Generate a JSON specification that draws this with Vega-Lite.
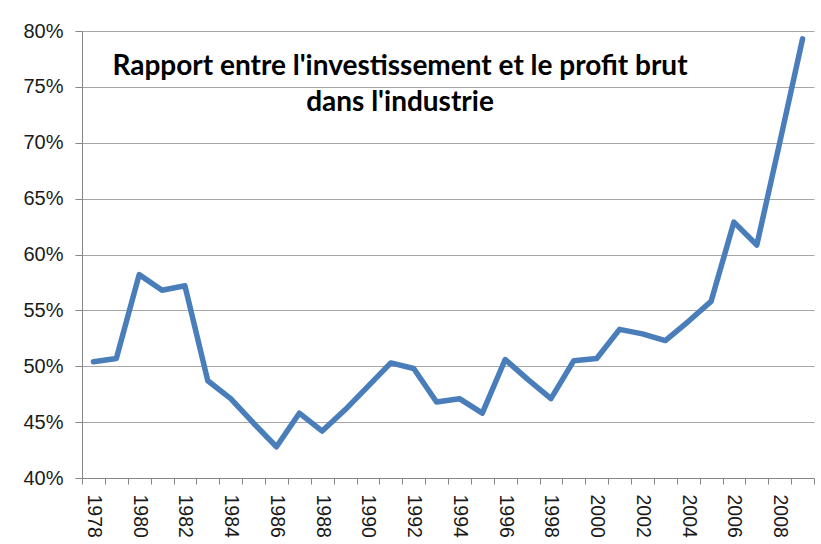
{
  "$schema": "https://vega.github.io/schema/vega-lite/v6.json",
  "autosize": "none",
  "width": 732,
  "height": 447,
  "padding": {"left": 82, "top": 31, "right": 7, "bottom": 66},
  "background": "white",
  "title": {
    "text": ["Rapport entre l'investissement et le profit brut", "dans l'industrie"],
    "orient": "top",
    "anchor": "middle",
    "frame": "group",
    "dx": -48,
    "offset": -118,
    "baseline": "alphabetic",
    "font": "Lato",
    "fontSize": 28,
    "fontWeight": "bold",
    "color": "#000000",
    "lineHeight": 36
  },
  "data": {
    "values": [
      {"year": "1978", "ratio": 0.504},
      {"year": "1979", "ratio": 0.507},
      {"year": "1980", "ratio": 0.582},
      {"year": "1981", "ratio": 0.568},
      {"year": "1982", "ratio": 0.572},
      {"year": "1983", "ratio": 0.487},
      {"year": "1984", "ratio": 0.471},
      {"year": "1985", "ratio": 0.449},
      {"year": "1986", "ratio": 0.428},
      {"year": "1987", "ratio": 0.458},
      {"year": "1988", "ratio": 0.442},
      {"year": "1989", "ratio": 0.461},
      {"year": "1990", "ratio": 0.482},
      {"year": "1991", "ratio": 0.503},
      {"year": "1992", "ratio": 0.498},
      {"year": "1993", "ratio": 0.468},
      {"year": "1994", "ratio": 0.471},
      {"year": "1995", "ratio": 0.458},
      {"year": "1996", "ratio": 0.506},
      {"year": "1997", "ratio": 0.488},
      {"year": "1998", "ratio": 0.471},
      {"year": "1999", "ratio": 0.505},
      {"year": "2000", "ratio": 0.507},
      {"year": "2001", "ratio": 0.533},
      {"year": "2002", "ratio": 0.529},
      {"year": "2003", "ratio": 0.523},
      {"year": "2004", "ratio": 0.540},
      {"year": "2005", "ratio": 0.558},
      {"year": "2006", "ratio": 0.629},
      {"year": "2007", "ratio": 0.6085},
      {"year": "2008", "ratio": 0.700},
      {"year": "2009", "ratio": 0.793}
    ]
  },
  "mark": {"type": "line", "color": "#4A7EBB", "strokeWidth": 5.5, "strokeJoin": "round", "strokeCap": "round"},
  "encoding": {
    "x": {
      "field": "year",
      "type": "ordinal",
      "bandPosition": 0.5,
      "scale": {"type": "band", "paddingInner": 0, "paddingOuter": 0},
      "axis": {
        "title": null,
        "labelAngle": 90,
        "labelExpr": "toNumber(datum.value) % 2 == 0 ? datum.label : ''",
        "tickBand": "extent",
        "tickSize": 6,
        "labelPadding": 10,
        "domainColor": "#868686",
        "tickColor": "#868686",
        "labelFont": "Liberation Sans",
        "labelFontSize": 19.5,
        "labelColor": "#1a1a1a",
        "grid": false
      }
    },
    "y": {
      "field": "ratio",
      "type": "quantitative",
      "scale": {"domain": [0.4, 0.8], "nice": false, "zero": false},
      "axis": {
        "title": null,
        "format": ".0%",
        "values": [0.4, 0.45, 0.5, 0.55, 0.6, 0.65, 0.7, 0.75, 0.8],
        "tickSize": 7,
        "labelPadding": 12,
        "domainColor": "#868686",
        "tickColor": "#868686",
        "gridColor": "#a6a6a6",
        "grid": true,
        "labelFont": "Liberation Sans",
        "labelFontSize": 20,
        "labelColor": "#1a1a1a"
      }
    }
  },
  "config": {"view": {"stroke": null}}
}
